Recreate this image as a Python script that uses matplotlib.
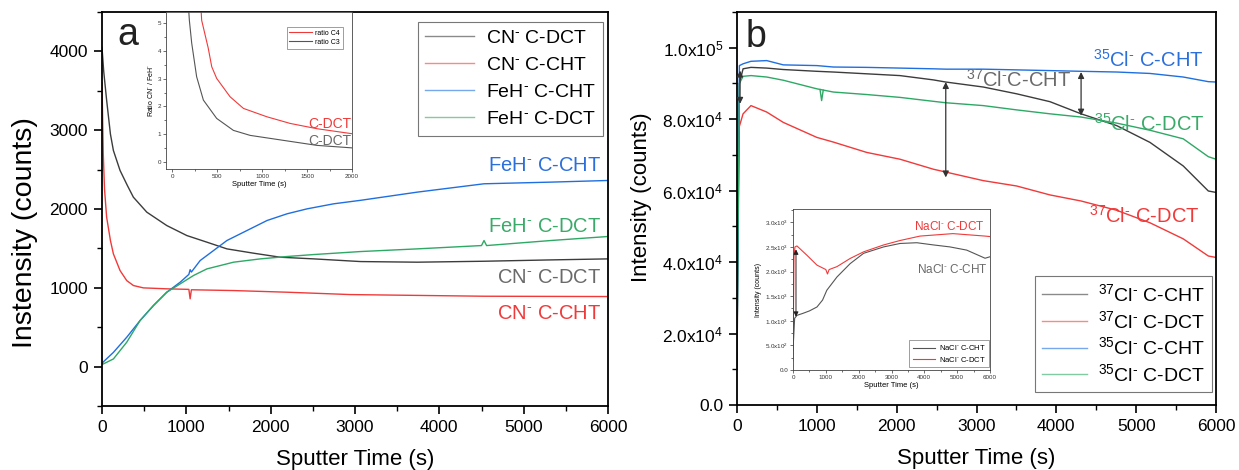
import numpy as np
import matplotlib.pyplot as plt
from matplotlib.ticker import MultipleLocator, FixedLocator

plt.rcParams['font.family'] = ['Liberation Sans', 'DejaVu Sans']
plt.rcParams['mathtext.fontset'] = 'custom'
plt.rcParams['mathtext.rm'] = 'Liberation Sans'
plt.rcParams['mathtext.it'] = 'Liberation Sans:italic'
plt.rcParams['mathtext.bf'] = 'Liberation Sans:bold'
plt.rcParams['mathtext.default'] = 'regular'

NEG = r'$^{\text{-}}$'   # small raised hyphen like in the original figure

# ---- panel a : CN- and FeH- depth profiles ----
t_cn_dct = [0, 20, 55, 100, 135, 214, 300, 372, 531, 768, 1006, 1244, 1481, 1798, 2115, 2511, 3065, 3738, 4530, 5322, 6000]
cn_dct = [4050, 3750, 3380, 2950, 2743, 2489, 2300, 2150, 1960, 1790, 1663, 1579, 1494, 1439, 1388, 1367, 1333, 1325, 1337, 1354, 1367]

t_cn_cht = [0, 5, 15, 30, 55, 100, 135, 214, 293, 372, 491, 768, 1030, 1045, 1060, 1560, 2194, 2946, 4530, 6000]
cn_cht = [3600, 3300, 2700, 2250, 1896, 1600, 1431, 1219, 1092, 1029, 999, 987, 980, 860, 975, 965, 944, 914, 893, 889]

t_feh_cht = [0, 16, 135, 293, 451, 610, 768, 927, 1030, 1045, 1060, 1164, 1323, 1481, 1719, 1957, 2194, 2432, 2748, 3065, 3738, 4530, 5322, 6000]
feh_cht = [40, 60, 180, 372, 584, 775, 944, 1071, 1170, 1230, 1200, 1346, 1473, 1600, 1727, 1854, 1939, 2002, 2066, 2110, 2214, 2320, 2341, 2362]

t_feh_dct = [0, 16, 135, 293, 451, 610, 768, 927, 1085, 1244, 1560, 1877, 2194, 2511, 3065, 3738, 4500, 4530, 4560, 5322, 6000]
feh_dct = [30, 34, 97, 309, 584, 775, 944, 1050, 1156, 1240, 1325, 1367, 1397, 1422, 1460, 1494, 1536, 1600, 1536, 1600, 1651]

# inset a : CN-/FeH- ratio
t_c4 = [320, 327, 400, 439, 494, 643, 792, 1052, 1312, 1610, 2000]
ratio_c4 = [5.5, 5.1, 4.1, 3.43, 3.01, 2.35, 1.93, 1.63, 1.39, 1.2, 1.02]
t_c3 = [180, 190, 216, 271, 346, 494, 680, 866, 1238, 1610, 2000]
ratio_c3 = [5.6, 5.1, 4.28, 3.07, 2.23, 1.57, 1.14, 0.96, 0.78, 0.6, 0.51]

# ---- panel b : Cl- depth profiles ----
t_b = [0, 30, 76, 175, 372, 580, 1000, 1206, 1624, 2041, 2459, 2615, 3085, 3503, 3920, 4310, 4756, 5173, 5590, 5904, 6000]
cl37_cht = [10000, 90000, 94100, 94500, 94300, 93900, 93400, 93200, 92700, 92200, 91000, 90400, 89000, 87100, 84900, 81500, 78200, 73500, 66900, 59900, 59500]
cl37_dct = [50000, 78000, 81500, 83800, 82000, 79100, 74900, 73600, 70700, 68800, 66000, 65200, 62800, 61300, 58800, 57100, 54500, 51000, 46500, 41700, 41300]
cl35_cht = [15000, 95000, 95500, 96200, 96400, 95200, 95000, 94600, 94500, 94300, 94100, 94000, 94000, 93800, 93600, 93400, 93200, 92800, 91800, 90500, 90400]
cl35_dct = [15000, 90000, 92000, 92200, 91800, 90900, 88500, 87600, 86900, 86100, 85000, 84600, 83800, 82600, 81500, 80600, 78900, 76900, 74500, 69500, 68800]
t_spike = [1040, 1060, 1080]
cl35_dct_spike = [88300, 85200, 88100]

# inset b : NaCl-
t_nacl_cht = [0, 50, 120, 300, 500, 730, 900, 1030, 1340, 1740, 2150, 2760, 3260, 3770, 4280, 4780, 5290, 5850, 6000]
nacl_cht = [400, 1050, 1110, 1150, 1200, 1280, 1420, 1620, 1890, 2160, 2370, 2500, 2570, 2585, 2540, 2500, 2435, 2270, 2300]
t_nacl_dct = [0, 30, 60, 120, 425, 730, 1000, 1050, 1100, 1340, 1740, 2150, 2760, 3260, 3870, 4870, 5850, 6000]
nacl_dct = [200, 2300, 2500, 2520, 2330, 2130, 2040, 1950, 2040, 2100, 2265, 2400, 2540, 2630, 2720, 2770, 2720, 2710]

b_yticks = [0, 20000, 40000, 60000, 80000, 100000]
b_yticklabels = ['0.0', '2.0x10$^{4}$', '4.0x10$^{4}$', '6.0x10$^{4}$', '8.0x10$^{4}$', '1.0x10$^{5}$']
ib_yticks = [0, 500, 1000, 1500, 2000, 2500, 3000]
ib_yticklabels = ['0.0', '5.0x10$^{2}$', '1.0x10$^{3}$', '1.5x10$^{3}$', '2.0x10$^{3}$', '2.5x10$^{3}$', '3.0x10$^{3}$']

# double arrows (time, top, bottom)
b_arrows = [(38, 93600, 84300), (2615, 90400, 63700), (4310, 93200, 81000)]
ib_arrow = (91, 2450, 1080)

GRAY, RED, BLUE, GREEN = '#3c3c3c', '#f03a3a', '#1f6fe0', '#2ea865'
LGRAY, LRED, LBLUE, LGREEN = '#6a6a6a', '#f03a3a', '#2b6fdc', '#3aaa6a'

W, H = 1239, 470
fig = plt.figure(figsize=(W / 100, H / 100), dpi=100)


def px_axes(l, t, r, b):
    return fig.add_axes([l / W, 1 - b / H, (r - l) / W, (b - t) / H])


def style_main(ax):
    for s in ax.spines.values():
        s.set_linewidth(1.3)
    ax.tick_params(which='both', direction='out', top=False, right=False)
    ax.tick_params(which='major', length=6, width=1.2, labelsize=12.5, pad=4)
    ax.tick_params(which='minor', length=3.5, width=1.0)


def style_inset(ax):
    for s in ax.spines.values():
        s.set_linewidth(0.6)
        s.set_color('#444444')
    ax.tick_params(which='both', direction='out', top=False, right=False, width=0.5, colors='#333333')
    ax.tick_params(which='major', length=2, labelsize=4.5, pad=1.5)
    ax.tick_params(which='minor', length=1.2)


# ===== panel a =====
ax = px_axes(102, 12, 608, 406)
style_main(ax)
ax.plot(t_cn_dct, cn_dct, color=GRAY, lw=1, label='CN' + NEG + ' C-DCT')
ax.plot(t_cn_cht, cn_cht, color=RED, lw=1, label='CN' + NEG + ' C-CHT')
ax.plot(t_feh_cht, feh_cht, color=BLUE, lw=1, label='FeH' + NEG + ' C-CHT')
ax.plot(t_feh_dct, feh_dct, color=GREEN, lw=1, label='FeH' + NEG + ' C-DCT')
ax.set_xlim(0, 6000)
ax.set_ylim(-500, 4500)
ax.xaxis.set_major_locator(MultipleLocator(1000))
ax.xaxis.set_minor_locator(MultipleLocator(500))
ax.yaxis.set_major_locator(FixedLocator([0, 1000, 2000, 3000, 4000]))
ax.yaxis.set_minor_locator(MultipleLocator(500))
ax.set_xlabel('Sputter Time (s)', fontsize=16, labelpad=10)
ax.set_ylabel('Instensity (counts)', fontsize=20.5)
ax.yaxis.set_label_coords(-0.126, 0.44)
leg = ax.legend(loc='upper right', bbox_to_anchor=(0.99, 0.975), borderaxespad=0, fontsize=14,
                frameon=True, fancybox=False, edgecolor='#777777', framealpha=1,
                handlelength=2.5, labelspacing=0.48, borderpad=0.4, handletextpad=0.6)
leg.get_frame().set_linewidth(0.8)
for ln in leg.get_lines():
    ln.set_alpha(0.6)
ax.text(0.03, 0.916, 'a', transform=ax.transAxes, fontsize=27, color='#222222')
ax.text(5920, 2480, 'FeH' + NEG + ' C-CHT', color=LBLUE, fontsize=14.5, ha='right', va='baseline')
ax.text(5920, 1714, 'FeH' + NEG + ' C-DCT', color=LGREEN, fontsize=14.5, ha='right', va='baseline')
ax.text(5920, 1058, 'CN' + NEG + ' C-DCT', color=LGRAY, fontsize=14.5, ha='right', va='baseline')
ax.text(5920, 605, 'CN' + NEG + ' C-CHT', color=LRED, fontsize=14.5, ha='right', va='baseline')

# inset a
ia = px_axes(166, 12, 352, 169)
style_inset(ia)
ia.plot(t_c4, ratio_c4, color=RED, lw=0.8, label='ratio C4')
ia.plot(t_c3, ratio_c3, color='#555555', lw=0.8, label='ratio C3')
ia.set_xlim(-70, 2000)
ia.set_ylim(-0.25, 5.4)
ia.xaxis.set_major_locator(MultipleLocator(500))
ia.xaxis.set_minor_locator(MultipleLocator(250))
ia.yaxis.set_major_locator(MultipleLocator(1))
ia.yaxis.set_minor_locator(MultipleLocator(0.5))
ia.set_xlabel('Sputter Time (s)', fontsize=5.5, labelpad=1.5)
ia.set_ylabel('Ratio CN' + NEG + ' / FeH' + NEG, fontsize=5, labelpad=2)
lg = ia.legend(loc='upper right', bbox_to_anchor=(0.95, 0.905), borderaxespad=0, fontsize=5,
               fancybox=False, edgecolor='#777777', framealpha=1, handlelength=3.2,
               labelspacing=0.3, borderpad=0.4, handletextpad=0.5)
lg.get_frame().set_linewidth(0.5)
ia.text(1990, 1.23, 'C-DCT', color=LRED, fontsize=10, ha='right', va='baseline')
ia.text(1990, 0.61, 'C-DCT', color=LGRAY, fontsize=10, ha='right', va='baseline')

# ===== panel b =====
bx = px_axes(737, 12, 1216, 405)
style_main(bx)
bx.plot(t_b, cl37_cht, color=GRAY, lw=1, label='$^{37}$Cl' + NEG + ' C-CHT')
bx.plot(t_b, cl37_dct, color=RED, lw=1, label='$^{37}$Cl' + NEG + ' C-DCT')
bx.plot(t_b, cl35_cht, color=BLUE, lw=1, label='$^{35}$Cl' + NEG + ' C-CHT')
bx.plot(t_b, cl35_dct, color=GREEN, lw=1, label='$^{35}$Cl' + NEG + ' C-DCT')
bx.plot(t_spike, cl35_dct_spike, color=GREEN, lw=1)
bx.set_xlim(0, 6000)
bx.set_ylim(0, 110000)
bx.xaxis.set_major_locator(MultipleLocator(1000))
bx.xaxis.set_minor_locator(MultipleLocator(500))
bx.yaxis.set_major_locator(FixedLocator(b_yticks))
bx.set_yticklabels(b_yticklabels)
bx.yaxis.set_minor_locator(MultipleLocator(10000))
bx.set_xlabel('Sputter Time (s)', fontsize=16, labelpad=10)
bx.set_ylabel('Intensity (counts)', fontsize=16)
bx.yaxis.set_label_coords(-0.177, 0.53)
leg = bx.legend(loc='lower right', bbox_to_anchor=(0.992, 0.033), borderaxespad=0, fontsize=14,
                frameon=True, fancybox=False, edgecolor='#777777', framealpha=1,
                handlelength=2.3, labelspacing=0.25, borderpad=0.35, handletextpad=0.6)
leg.get_frame().set_linewidth(0.8)
for ln in leg.get_lines():
    ln.set_alpha(0.6)
bx.text(0.017, 0.912, 'b', transform=bx.transAxes, fontsize=27, color='#222222')
bx.text(5840, 94800, '$^{35}$Cl' + NEG + ' C-CHT', color=LBLUE, fontsize=14.5, ha='right', va='baseline')
bx.text(4190, 89000, '$^{37}$Cl' + NEG + 'C-CHT', color=LGRAY, fontsize=14.5, ha='right', va='baseline')
bx.text(5860, 76800, '$^{35}$Cl' + NEG + ' C-DCT', color=LGREEN, fontsize=14.5, ha='right', va='baseline')
bx.text(5800, 51000, '$^{37}$Cl' + NEG + ' C-DCT', color=LRED, fontsize=14.5, ha='right', va='baseline')
for t, top, bot in b_arrows:
    bx.annotate('', xy=(t, top), xytext=(t, bot),
                arrowprops=dict(arrowstyle='<|-|>', color='#333333', lw=0.9, mutation_scale=9,
                                shrinkA=0, shrinkB=0))

# inset b
ib = px_axes(793, 209, 990, 370)
style_inset(ib)
ib.plot(t_nacl_cht, nacl_cht, color='#555555', lw=0.8, label='NaCl' + NEG + ' C-CHT')
ib.plot(t_nacl_dct, nacl_dct, color=RED, lw=0.8, label='NaCl' + NEG + ' C-DCT')
ib.set_xlim(0, 6000)
ib.set_ylim(0, 3270)
ib.xaxis.set_major_locator(MultipleLocator(1000))
ib.xaxis.set_minor_locator(MultipleLocator(500))
ib.yaxis.set_major_locator(FixedLocator(ib_yticks))
ib.set_yticklabels(ib_yticklabels)
ib.yaxis.set_minor_locator(MultipleLocator(250))
ib.set_xlabel('Sputter Time (s)', fontsize=5.5, labelpad=1.5)
ib.set_ylabel('Intensity (counts)', fontsize=5, labelpad=2)
lg = ib.legend(loc='lower right', bbox_to_anchor=(0.995, 0.02), borderaxespad=0, fontsize=5.5,
               fancybox=False, edgecolor='#777777', framealpha=1, handlelength=3.0,
               labelspacing=0.3, borderpad=0.4, handletextpad=0.5)
lg.get_frame().set_linewidth(0.5)
ib.text(5848, 2837, 'NaCl' + NEG + ' C-DCT', color=LRED, fontsize=8.5, ha='right', va='baseline')
ib.text(5940, 1960, 'NaCl' + NEG + ' C-CHT', color=LGRAY, fontsize=8.5, ha='right', va='baseline')
t, top, bot = ib_arrow
ib.annotate('', xy=(t, top), xytext=(t, bot),
            arrowprops=dict(arrowstyle='<|-|>', color='#222222', lw=0.7, mutation_scale=7,
                            shrinkA=0, shrinkB=0))

fig.savefig('out.png', dpi=100)
